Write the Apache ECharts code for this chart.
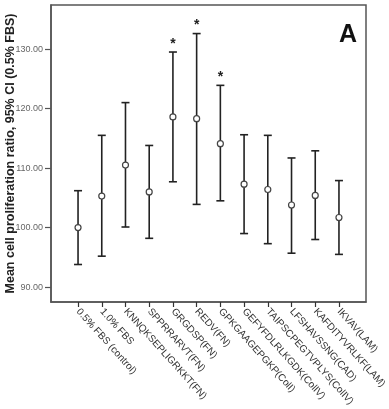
<!DOCTYPE html>
<html>
<head>
<meta charset="utf-8">
<script src="https://cdn.jsdelivr.net/npm/echarts@6/dist/echarts.min.js"></script>
<style>
  html, body { margin: 0; padding: 0; background: #fff; }
  #main { width: 389px; height: 409px; }
</style>
</head>
<body>
<div id="main"></div>
<script>
var categories = ['0.5% FBS (control)', '1.0% FBS', 'KNNQKSEPLIGRKKT(FN)', 'SPPRRARVT(FN)',
    'GRGDSP(FN)', 'REDV(FN)', 'GPKGAAGEPGKP(ColI)', 'GEFYFDLRLKGDK(ColIV)',
    'TAIPSCPEGTVPLYS(ColIV)', 'LFSHAVSSNG(CAD)', 'KAFDITYVRLKF(LAM)', 'IKVAV(LAM)'];
var means = [100.0, 105.3, 110.5, 106.0, 118.6, 118.3, 114.1, 107.3, 106.4, 103.8, 105.4, 101.7];
var lower = [93.8, 95.2, 100.1, 98.2, 107.7, 103.9, 104.5, 99.0, 97.3, 95.7, 98.0, 95.5];
var upper = [106.2, 115.5, 121.0, 113.8, 129.5, 132.6, 123.9, 115.6, 115.5, 111.7, 112.9, 107.9];
var significant = [0, 0, 0, 0, 1, 1, 1, 0, 0, 0, 0, 0];
var yTicks = [90, 100, 110, 120, 130];

var chart = echarts.init(document.getElementById('main'));

var rows = [];
var catIdx = [];
for (var i = 0; i < categories.length; i++) {
    rows.push([i, means[i], lower[i], upper[i], significant[i]]);
    catIdx.push(i);
}

function renderBar(params, api) {
    var x = api.value(0);
    var pMean = api.coord([x, api.value(1)]);
    var pLow = api.coord([x, api.value(2)]);
    var pHigh = api.coord([x, api.value(3)]);
    var cap = 4;
    var lineStyle = { stroke: '#222', lineWidth: 1.6 };
    var kids = [
        { type: 'line', shape: { x1: pLow[0], y1: pLow[1], x2: pHigh[0], y2: pHigh[1] }, style: lineStyle },
        { type: 'line', shape: { x1: pLow[0] - cap, y1: pLow[1], x2: pLow[0] + cap, y2: pLow[1] }, style: lineStyle },
        { type: 'line', shape: { x1: pHigh[0] - cap, y1: pHigh[1], x2: pHigh[0] + cap, y2: pHigh[1] }, style: lineStyle },
        { type: 'circle', shape: { cx: pMean[0], cy: pMean[1], r: 3 }, style: { fill: '#fff', stroke: '#444', lineWidth: 1.2 } }
    ];
    if (api.value(4)) {
        kids.push({ type: 'text', x: pHigh[0], y: pHigh[1] - 1,
            style: { text: '*', fill: '#222', font: 'bold 14px "Liberation Sans"', align: 'center', verticalAlign: 'bottom' } });
    }
    return { type: 'group', children: kids };
}

var option = {
    animation: false,
    backgroundColor: '#fff',
    grid: { left: 51, right: 23, top: 5, bottom: 107, show: true, borderColor: '#555', borderWidth: 1.5,
        outerBoundsMode: 'none', containLabel: false },
    xAxis: {
        type: 'value', min: -1.14, max: 12.14,
        splitLine: { show: false },
        axisLine: { show: true, onZero: false, lineStyle: { color: '#555', width: 1.5 } },
        axisTick: { show: true, length: 5, customValues: catIdx, lineStyle: { color: '#333', width: 1.2 } },
        axisLabel: {
            customValues: catIdx, rotate: -48, margin: 8, color: '#333',
            fontFamily: 'Liberation Sans', fontSize: 10,
            formatter: function (v) { return categories[Math.round(v)]; }
        }
    },
    yAxis: {
        type: 'value', min: 87.5, max: 137.4,
        name: 'Mean cell proliferation ratio, 95% CI (0.5% FBS)',
        nameLocation: 'middle', nameGap: 34, nameMoveOverlap: false,
        nameTextStyle: { fontFamily: 'Liberation Sans', fontWeight: 'bold', fontSize: 12.5, color: '#222' },
        splitLine: { show: false },
        axisLine: { show: true, onZero: false, lineStyle: { color: '#555', width: 1.5 } },
        axisTick: { show: true, length: 6, customValues: yTicks, lineStyle: { color: '#555', width: 1.2 } },
        axisLabel: {
            customValues: yTicks, margin: 8, color: '#666',
            fontFamily: 'Liberation Sans', fontSize: 9,
            formatter: function (v) { return v.toFixed(2); }
        }
    },
    graphic: [{
        type: 'text', right: 32, top: 23,
        style: { text: 'A', fill: '#111', font: 'bold 25px "Liberation Sans"' }
    }],
    series: [{
        type: 'custom',
        renderItem: renderBar,
        encode: { x: 0, y: [1, 2, 3] },
        data: rows
    }]
};

chart.setOption(option);
</script>
</body>
</html>
